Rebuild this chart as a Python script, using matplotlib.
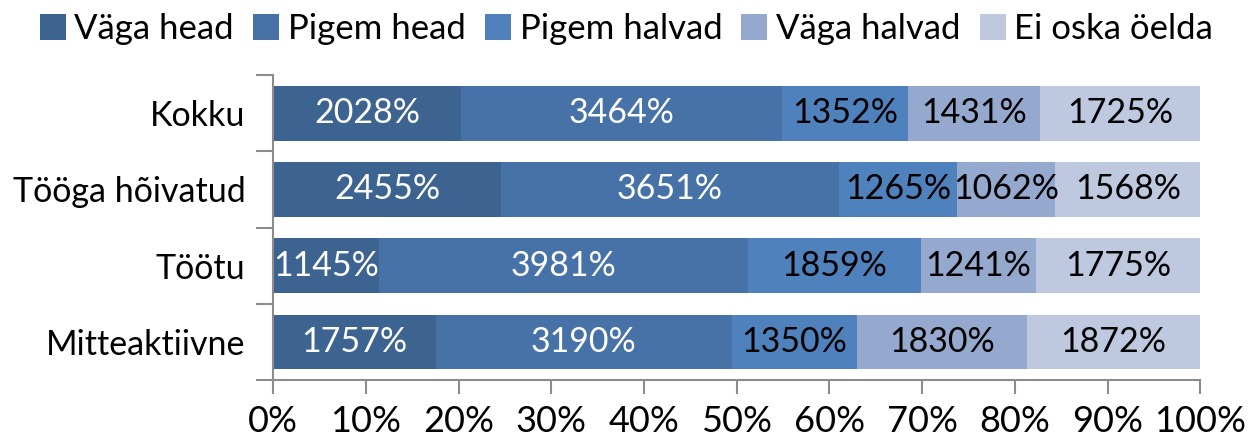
import matplotlib
matplotlib.use('Agg')
from matplotlib import pyplot as plt
import numpy as np

categories = ['Kokku', 'Tööga hõivatud', 'Töötu', 'Mitteaktiivne']
series = ['Väga head', 'Pigem head', 'Pigem halvad', 'Väga halvad', 'Ei oska öelda']
vaga_head = [20.28, 24.55, 11.45, 17.57]
pigem_head = [34.64, 36.51, 39.81, 31.90]
pigem_halvad = [13.52, 12.65, 18.59, 13.50]
vaga_halvad = [14.31, 10.62, 12.41, 18.30]
ei_oska = [17.25, 15.68, 17.75, 18.72]

colors = ['#3d6490', '#4672a8', '#4f81bd', '#95a9cf', '#bec8df']
label_colors = ['white', 'white', 'black', 'black', 'black']

plt.rcParams['font.family'] = ['Lato', 'DejaVu Sans']
fs = 24.5

fig = plt.figure(figsize=(12.53, 4.41), dpi=100)
ax = fig.add_axes([0.218, 0.138, 0.740, 0.692])

y = np.arange(len(categories))
left = np.zeros(len(categories))
for name, vals, c, lc in zip(series, [vaga_head, pigem_head, pigem_halvad, vaga_halvad, ei_oska],
                             colors, label_colors):
    vals = np.array(vals)
    bars = ax.barh(y, vals, left=left, height=0.72, color=c, label=name)
    ax.bar_label(bars, labels=[f'{v * 100:.0f}%' for v in vals], label_type='center',
                 color=lc, fontsize=fs)
    left += vals

ax.set_xlim(0, 100)
ax.set_ylim(3.5, -0.5)
ax.set_xticks(np.arange(0, 101, 10))
ax.set_xticklabels([f'{t}%' for t in range(0, 101, 10)], fontsize=26)
ax.set_yticks(y)
ax.set_yticklabels(categories, fontsize=fs)
ax.set_yticks(np.arange(-0.5, 4, 1), minor=True)

for s in ['top', 'right']:
    ax.spines[s].set_visible(False)
for s in ['left', 'bottom']:
    ax.spines[s].set_color('#8c8c8c')
    ax.spines[s].set_linewidth(1.5)

ax.tick_params(axis='y', which='major', length=0, pad=20)
ax.tick_params(axis='y', which='minor', length=12, width=1.5, color='#8c8c8c')
ax.tick_params(axis='x', length=10, width=1.5, color='#8c8c8c', pad=8)

fig.legend(loc='upper center', bbox_to_anchor=(0.500, 1.01), ncol=5, frameon=False,
           fontsize=25, handlelength=0.75, handleheight=0.75, handletextpad=0.25,
           columnspacing=0.55, borderaxespad=0.1)

fig.savefig('out.png', dpi=100)
